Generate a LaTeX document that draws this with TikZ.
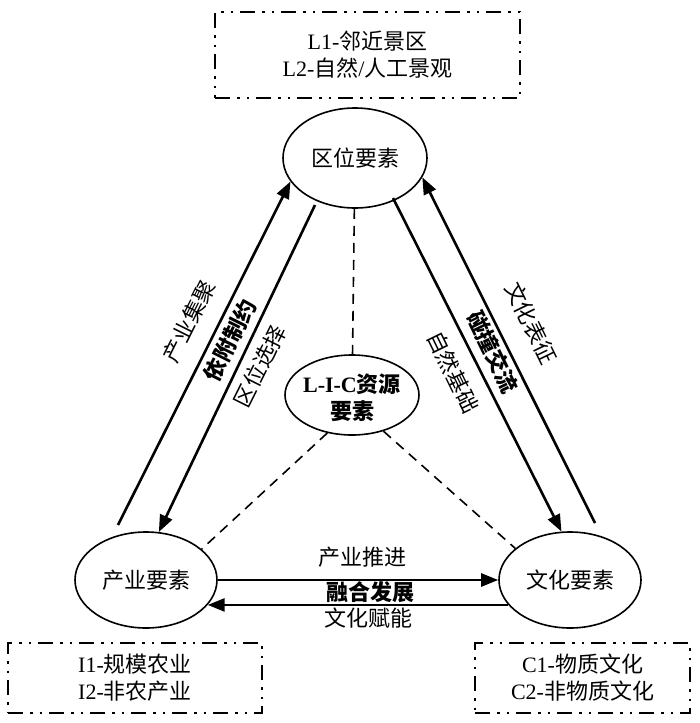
\documentclass[tikz,border=0pt]{standalone}
\usepackage{fontspec}
\setmainfont{Liberation Serif}
\newfontfamily\cjk{Noto Sans CJK SC}
\usetikzlibrary{arrows.meta,shapes.geometric,calc}
\newcommand{\zhtext}[1]{{\cjk #1}}

\begin{document}
\begin{tikzpicture}[x=1pt,y=-1pt,
  every node/.style={font=\fontsize{22pt}{27pt}\selectfont, inner sep=0pt},
  elem/.style={draw, ellipse, line width=1.6pt, minimum width=144pt, minimum height=100pt},
  note/.style={draw, line width=2pt, dash pattern=on 15pt off 7pt on 2.5pt off 7pt on 2.5pt off 7pt, align=center},
  flow/.style={line width=2.6pt, -{Triangle[length=17pt,width=13pt]}},
  link/.style={line width=1.6pt, dash pattern=on 10pt off 7pt},
]
\useasboundingbox (0,0) rectangle (700,723);

% boxes
\node[note, minimum width=305pt, minimum height=86pt] (B1) at (367.5,55)
  {L1-\zhtext{邻近景区}\\L2-\zhtext{自然}/\zhtext{人工景观}};
\node[note, minimum width=254pt, minimum height=70pt] (B2) at (135,678)
  {I1-\zhtext{规模农业}\\I2-\zhtext{非农产业}};
\node[note, minimum width=215pt, minimum height=70pt] (B3) at (582.5,678)
  {C1-\zhtext{物质文化}\\C2-\zhtext{非物质文化}};

% ellipses
\node[elem] (T) at (355,158) {\zhtext{区位要素}};
\node[elem, minimum width=142pt, minimum height=96pt] (L) at (146,580) {\zhtext{产业要素}};
\node[elem, minimum width=142pt, minimum height=96pt] (R) at (570,580) {\zhtext{文化要素}};
\node[elem, minimum width=134pt, minimum height=80pt] (C) at (352,395) {};
\node[align=center] (Ct) at (352,398) {\bfseries L-I-C\zhtext{资源}\\\bfseries\zhtext{要素}};

% dashed links
\draw[link] (T) -- (C);
\draw[link] (C.237) -- (L.29);
\draw[link] (C.311) -- (R.150);

% arrows
\coordinate (ua) at (118,525);
\coordinate (da) at (315,205);
\coordinate (ub) at (595,523);
\coordinate (db) at (393,198);
\draw[flow] (ua) -- (T.200);
\draw[flow] (da) -- (L.75);
\draw[flow] (ub) -- (T.344);
\draw[flow] (db) -- (R.100);
\draw[flow] (L.0) -- (R.180);
\draw[flow] (R.202.4) -- (L.-22.4);

% labels
\node[rotate=63.5] (l1) at (189,321) {\zhtext{产业集聚}};
\node[rotate=63.5] (l2) at (230,340) {\bfseries\zhtext{依附制约}};
\node[rotate=63.5] (l3) at (260,366) {\zhtext{区位选择}};
\node[rotate=-64] (r1) at (531,323) {\zhtext{文化表征}};
\node[rotate=-64] (r2) at (493,352) {\bfseries\zhtext{碰撞交流}};
\node[rotate=-64] (r3) at (453,372) {\zhtext{自然基础}};
\node (b1) at (362,557) {\zhtext{产业推进}};
\node (b2) at (370,592) {\bfseries\zhtext{融合发展}};
\node (b3) at (368,618) {\zhtext{文化赋能}};
\end{tikzpicture}
\end{document}
